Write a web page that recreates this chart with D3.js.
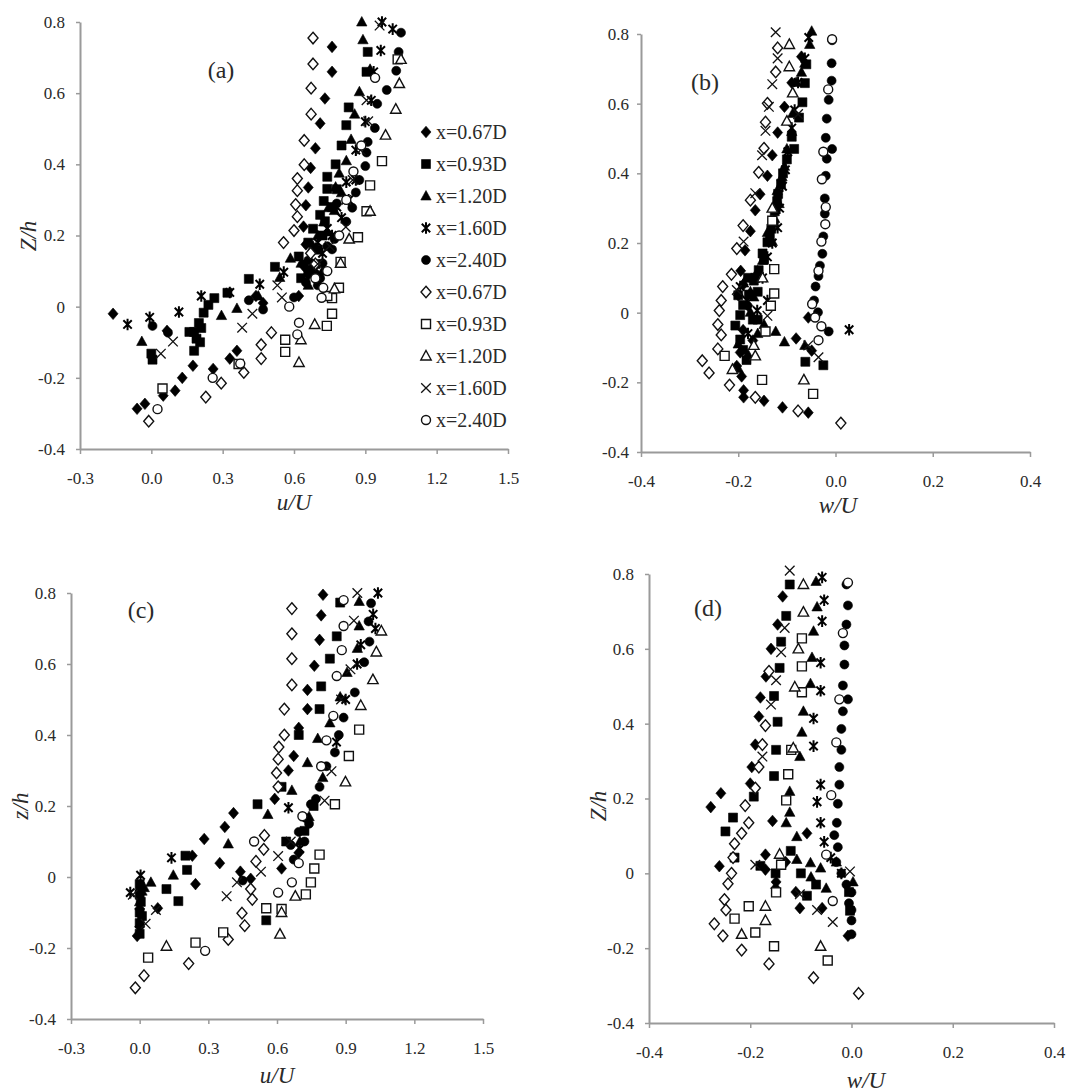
<!DOCTYPE html>
<html>
<head>
<meta charset="utf-8">
<script src="https://cdn.jsdelivr.net/npm/d3@7"></script>
<style>
  body { margin: 0; background: #fff; }
  text { font-family: "Liberation Serif", "DejaVu Serif", serif; fill: #2a2a2a; }
</style>
</head>
<body>
<script>
width = 1067;
height = 1092;

// tick labels
uTicks = [-0.3, 0, 0.3, 0.6, 0.9, 1.2, 1.5];
uTickLabels = ["-0.3", "0.0", "0.3", "0.6", "0.9", "1.2", "1.5"];
wTicks = [-0.4, -0.2, 0, 0.2, 0.4];
wTickLabels = ["-0.4", "-0.2", "0.0", "0.2", "0.4"];
zTicks = [-0.4, -0.2, 0, 0.2, 0.4, 0.6, 0.8];
zTickLabels = ["-0.4", "-0.2", "0", "0.2", "0.4", "0.6", "0.8"];

// legend / series
seriesNames = ["x=0.67D", "x=0.93D", "x=1.20D", "x=1.60D", "x=2.40D",
               "x=0.67D", "x=0.93D", "x=1.20D", "x=1.60D", "x=2.40D"];
seriesMarkers = ["diamondF", "squareF", "triangleF", "star", "circleF",
                 "diamondO", "squareO", "triangleO", "cross", "circleO"];

// ---- panel (a): u/U ----
a_067f = [[0.76,0.73],[0.76,0.66],[0.73,0.585],[0.71,0.515],[0.69,0.445],[0.67,0.39],[0.66,0.335],[0.65,0.285],[0.64,0.225],[0.65,0.175],[0.64,0.115],[0.66,0.09],[0.62,0.03],[0.47,0.01],[0.44,0.03],[0.36,-0.124],[0.33,-0.146],[0.26,-0.175],[0.175,-0.166],[0.13,-0.2],[0.1,-0.236],[0.05,-0.25],[-0.027,-0.273],[-0.06,-0.287],[-0.161,-0.02],[0.066,-0.068]];
a_093f = [[0.91,0.716],[0.905,0.66],[0.83,0.56],[0.82,0.51],[0.8,0.453],[0.775,0.4],[0.74,0.365],[0.74,0.331],[0.725,0.297],[0.71,0.258],[0.68,0.219],[0.66,0.18],[0.62,0.141],[0.52,0.112],[0.41,0.078],[0.32,0.039],[0.265,0.024],[0.24,0.005],[0.22,-0.017],[0.2,-0.046],[0.18,-0.071],[0.16,-0.071],[0.205,-0.1],[0.18,-0.124],[0.005,-0.149],[0.0,-0.132],[0.21,-0.06],[0.19,-0.09],[0.76,0.28],[0.73,0.24],[0.7,0.16],[0.72,0.2],[0.78,0.33],[0.69,0.12],[0.66,0.1],[0.63,0.08]];
a_120f = [[0.885,0.8],[0.89,0.75],[0.92,0.667],[0.875,0.604],[0.855,0.541],[0.84,0.47],[0.82,0.41],[0.79,0.375],[0.775,0.336],[0.745,0.278],[0.725,0.238],[0.7,0.2],[0.63,0.122],[0.585,0.136],[0.54,0.082],[0.45,0.03],[0.36,-0.005],[0.295,-0.025],[-0.04,-0.098],[0.69,0.165],[0.8,0.32],[0.77,0.27],[0.74,0.21],[0.68,0.17],[0.72,0.1],[0.66,0.06]];
a_160f = [[0.97,0.8],[1.015,0.78],[0.965,0.72],[0.935,0.66],[0.925,0.58],[0.9,0.52],[0.86,0.44],[0.86,0.356],[0.83,0.3],[0.8,0.25],[0.76,0.2],[0.72,0.15],[0.557,0.097],[0.456,0.063],[0.33,0.04],[0.21,0.03],[0.116,-0.015],[-0.007,-0.03],[-0.1,-0.05],[0.82,0.35],[0.78,0.28],[0.74,0.22],[0.7,0.18],[0.65,0.12]];
a_240f = [[1.05,0.77],[1.04,0.716],[1.03,0.663],[0.99,0.609],[0.95,0.57],[0.94,0.502],[0.91,0.463],[0.905,0.433],[0.9,0.395],[0.875,0.356],[0.86,0.321],[0.845,0.278],[0.82,0.239],[0.77,0.19],[0.76,0.161],[0.72,0.122],[0.69,0.093],[0.65,0.068],[0.6,0.026],[0.47,-0.008],[0.41,0.018],[0.07,-0.073],[0.005,-0.054],[0.7,0.06],[0.68,0.11],[0.78,0.29],[0.74,0.17],[0.71,0.08],[0.66,0.13]];
a_067o = [[0.68,0.755],[0.68,0.682],[0.672,0.614],[0.672,0.541],[0.643,0.467],[0.643,0.399],[0.614,0.36],[0.614,0.326],[0.607,0.287],[0.614,0.253],[0.6,0.214],[0.556,0.18],[0.505,-0.073],[0.462,-0.107],[0.462,-0.146],[0.389,-0.185],[0.294,-0.215],[0.229,-0.254],[-0.011,-0.322],[0.67,0.15],[0.69,0.12]];
a_093o = [[1.036,0.695],[0.97,0.409],[0.92,0.341],[0.905,0.268],[0.869,0.195],[0.796,0.126],[0.789,0.053],[0.76,0.024],[0.76,-0.02],[0.738,-0.054],[0.563,-0.093],[0.563,-0.127],[0.047,-0.23],[0.367,-0.161],[0.74,0.03]];
a_120o = [[1.05,0.695],[1.043,0.627],[1.028,0.555],[0.985,0.482],[0.92,0.268],[0.832,0.19],[0.796,0.122],[0.687,-0.05],[0.629,-0.093],[0.621,-0.157],[0.77,0.05]];
a_160o = [[0.96,0.79],[0.905,0.58],[0.912,0.521],[0.88,0.44],[0.847,0.356],[0.82,0.3],[0.818,0.224],[0.75,0.17],[0.549,0.026],[0.53,0.06],[0.425,-0.02],[0.382,-0.059],[0.091,-0.098],[0.04,-0.132],[0.7,0.12]];
a_240o = [[0.941,0.643],[0.883,0.453],[0.85,0.38],[0.82,0.3],[0.79,0.2],[0.74,0.1],[0.723,0.053],[0.716,0.025],[0.621,-0.045],[0.614,-0.078],[0.374,-0.16],[0.258,-0.2],[0.026,-0.288],[0.58,0.0],[0.69,0.08]];

// ---- panel (b): w/U ----
b_067f = [[-0.07,0.735],[-0.09,0.66],[-0.105,0.591],[-0.119,0.517],[-0.13,0.452],[-0.14,0.393],[-0.155,0.34],[-0.165,0.294],[-0.175,0.234],[-0.186,0.179],[-0.195,0.12],[-0.2,0.05],[-0.19,0.08],[-0.18,0.02],[-0.19,-0.05],[-0.17,-0.08],[-0.196,-0.114],[-0.203,-0.153],[-0.193,-0.183],[-0.189,-0.223],[-0.189,-0.243],[-0.147,-0.253],[-0.109,-0.272],[-0.056,-0.287],[-0.081,-0.074],[-0.049,-0.109],[-0.056,-0.014]];
b_093f = [[-0.06,0.713],[-0.063,0.659],[-0.068,0.604],[-0.075,0.56],[-0.085,0.47],[-0.09,0.505],[-0.1,0.44],[-0.108,0.4],[-0.112,0.37],[-0.118,0.341],[-0.12,0.32],[-0.125,0.291],[-0.132,0.241],[-0.135,0.22],[-0.14,0.202],[-0.147,0.152],[-0.15,0.17],[-0.158,0.122],[-0.165,0.1],[-0.168,0.092],[-0.178,0.052],[-0.19,0.022],[-0.196,-0.007],[-0.206,-0.037],[-0.196,-0.077],[-0.19,-0.107],[-0.183,-0.136],[-0.062,-0.141],[-0.025,-0.151],[-0.16,0.06],[-0.17,-0.02],[-0.16,-0.02],[-0.2,0.05],[-0.18,0.1]];
b_120f = [[-0.049,0.808],[-0.053,0.77],[-0.063,0.716],[-0.07,0.69],[-0.081,0.661],[-0.088,0.572],[-0.09,0.52],[-0.1,0.47],[-0.105,0.42],[-0.11,0.39],[-0.12,0.35],[-0.116,0.313],[-0.125,0.27],[-0.14,0.23],[-0.13,0.204],[-0.15,0.15],[-0.16,0.12],[-0.189,0.085],[-0.175,0.06],[-0.168,0.045],[-0.175,0.001],[-0.147,-0.034],[-0.16,-0.06],[-0.123,-0.054],[-0.105,-0.084],[-0.063,-0.094],[-0.2,-0.09],[-0.18,-0.12],[-0.2,-0.16]];
b_160f = [[-0.055,0.79],[-0.063,0.73],[-0.077,0.661],[-0.084,0.582],[-0.09,0.53],[-0.098,0.462],[-0.103,0.41],[-0.109,0.363],[-0.115,0.3],[-0.119,0.244],[-0.13,0.2],[-0.14,0.16],[-0.15,0.1],[-0.196,0.075],[-0.182,0.035],[-0.161,0.006],[-0.14,0.035],[0.028,-0.049],[-0.18,-0.06]];
b_240f = [[-0.007,0.782],[-0.008,0.716],[-0.008,0.666],[-0.014,0.611],[-0.018,0.557],[-0.02,0.502],[-0.007,0.47],[-0.018,0.442],[-0.02,0.393],[-0.022,0.328],[-0.022,0.284],[-0.025,0.219],[-0.027,0.169],[-0.032,0.135],[-0.035,0.105],[-0.041,0.075],[-0.044,0.035],[-0.036,0.001],[-0.014,-0.054]];
b_067o = [[-0.119,0.76],[-0.123,0.691],[-0.14,0.601],[-0.144,0.547],[-0.147,0.472],[-0.158,0.403],[-0.175,0.323],[-0.19,0.25],[-0.203,0.184],[-0.214,0.11],[-0.232,0.075],[-0.235,0.035],[-0.239,0.006],[-0.242,-0.034],[-0.235,-0.064],[-0.242,-0.104],[-0.274,-0.138],[-0.26,-0.173],[-0.218,-0.208],[-0.165,-0.243],[-0.077,-0.282],[0.011,-0.317]];
b_093o = [[-0.13,0.264],[-0.126,0.125],[-0.126,0.055],[-0.133,0.02],[-0.144,-0.054],[-0.228,-0.124],[-0.151,-0.193],[-0.046,-0.233]];
b_120o = [[-0.095,0.77],[-0.095,0.706],[-0.088,0.631],[-0.1,0.55],[-0.13,0.3],[-0.15,0.1],[-0.168,-0.094],[-0.165,-0.124],[-0.212,-0.163],[-0.065,-0.193]];
b_160o = [[-0.123,0.805],[-0.119,0.73],[-0.13,0.656],[-0.137,0.591],[-0.144,0.522],[-0.151,0.452],[-0.165,0.343],[-0.189,0.204],[-0.203,0.065],[-0.14,-0.009],[-0.056,-0.094],[-0.035,-0.128],[-0.077,0.57]];
b_240o = [[-0.007,0.785],[-0.015,0.641],[-0.025,0.462],[-0.028,0.383],[-0.02,0.303],[-0.021,0.254],[-0.029,0.204],[-0.035,0.12],[-0.048,0.025],[-0.042,-0.014],[-0.029,-0.039],[-0.035,-0.079]];

// ---- panel (c): u/U ----
c_067f = [[0.801,0.795],[0.793,0.737],[0.786,0.668],[0.763,0.595],[0.733,0.527],[0.733,0.473],[0.695,0.42],[0.673,0.341],[0.65,0.3],[0.59,0.22],[0.41,0.18],[0.372,0.141],[0.282,0.107],[0.244,-0.02],[0.079,-0.088],[-0.011,-0.166],[0.0,-0.14],[0.0,-0.09],[0.35,0.039],[0.44,0.015],[0.485,-0.005],[0.62,0.024],[0.695,0.068],[0.23,0.06]];
c_093f = [[0.876,0.773],[0.861,0.678],[0.831,0.615],[0.793,0.537],[0.786,0.473],[0.695,0.4],[0.62,0.254],[0.515,0.205],[0.207,0.02],[0.117,-0.034],[0.169,-0.068],[0.553,-0.122],[0.0,-0.1],[0.0,-0.13],[0.005,-0.07],[0.0,-0.02],[0.0,-0.05],[0.0,-0.16],[0.01,-0.11],[0.2,0.06],[0.64,0.1],[0.76,0.2],[0.72,0.13]];
c_120f = [[0.959,0.776],[0.959,0.707],[0.951,0.644],[0.906,0.576],[0.876,0.507],[0.831,0.434],[0.778,0.39],[0.733,0.322],[0.8,0.28],[0.665,0.244],[0.74,0.17],[0.56,0.176],[0.387,0.093],[0.147,0.005],[0.049,-0.015],[0.01,-0.04],[0.0,-0.07],[0.02,-0.03],[0.7,0.1]];
c_160f = [[1.041,0.8],[1.02,0.74],[1.03,0.7],[0.966,0.654],[0.95,0.6],[0.9,0.5],[0.86,0.38],[0.65,0.195],[0.7,0.08],[0.139,0.054],[0.004,0.005],[-0.041,-0.044]];
c_240f = [[1.011,0.771],[1.0,0.72],[1.004,0.663],[0.981,0.605],[0.94,0.52],[0.891,0.449],[0.87,0.4],[0.853,0.351],[0.816,0.312],[0.786,0.254],[0.77,0.22],[0.748,0.205],[0.726,0.166],[0.74,0.15],[0.695,0.127],[0.72,0.1],[0.66,0.09],[0.673,0.049],[0.45,-0.01],[0.0,-0.04]];
c_067o = [[0.665,0.756],[0.665,0.685],[0.665,0.615],[0.665,0.541],[0.632,0.473],[0.632,0.4],[0.608,0.366],[0.605,0.332],[0.598,0.293],[0.605,0.254],[0.545,0.117],[0.542,0.078],[0.508,0.044],[0.485,-0.034],[0.492,-0.063],[0.447,-0.102],[0.459,-0.137],[0.387,-0.176],[0.214,-0.244],[0.019,-0.278],[-0.019,-0.312]];
c_093o = [[0.959,0.415],[0.914,0.341],[0.853,0.205],[0.786,0.063],[0.763,0.024],[0.748,-0.015],[0.726,-0.049],[0.553,-0.088],[0.62,-0.09],[0.365,-0.156],[0.244,-0.185],[0.037,-0.227]];
c_120o = [[1.056,0.693],[1.034,0.634],[1.019,0.556],[0.966,0.483],[0.899,0.268],[0.68,-0.054],[0.62,-0.1],[0.613,-0.161],[0.117,-0.195]];
c_160o = [[0.951,0.8],[0.936,0.722],[0.921,0.585],[0.88,0.5],[0.838,0.298],[0.808,0.215],[0.66,0.1],[0.605,0.059],[0.53,0.015],[0.425,-0.015],[0.38,-0.054],[0.071,-0.093],[0.026,-0.132],[-0.03,-0.05]];
c_240o = [[0.891,0.78],[0.891,0.707],[0.883,0.639],[0.861,0.566],[0.846,0.454],[0.816,0.385],[0.793,0.312],[0.711,0.171],[0.5,0.1],[0.695,0.039],[0.665,-0.015],[0.605,-0.044],[0.286,-0.208]];

// ---- panel (d): w/U ----
d_067f = [[-0.136,0.74],[-0.146,0.665],[-0.159,0.6],[-0.169,0.526],[-0.18,0.47],[-0.183,0.419],[-0.19,0.344],[-0.197,0.284],[-0.2,0.24],[-0.278,0.177],[-0.258,0.214],[-0.261,0.019],[-0.156,0.14],[-0.088,0.107],[-0.17,0.05],[-0.17,0.01],[-0.13,0.03],[-0.149,-0.023],[-0.15,-0.04],[-0.11,-0.05],[-0.102,-0.093],[-0.058,-0.093],[-0.007,-0.167]];
d_093f = [[-0.122,0.772],[-0.129,0.688],[-0.139,0.619],[-0.142,0.549],[-0.153,0.474],[-0.146,0.405],[-0.149,0.33],[-0.153,0.26],[-0.193,0.205],[-0.234,0.149],[-0.249,0.112],[-0.231,0.042],[-0.18,0.02],[-0.15,0.0],[-0.12,0.06],[-0.1,0.0],[-0.07,-0.03],[-0.088,-0.06],[-0.005,-0.05],[-0.003,-0.1]];
d_120f = [[-0.07,0.78],[-0.068,0.712],[-0.075,0.647],[-0.078,0.577],[-0.081,0.507],[-0.095,0.433],[-0.098,0.377],[-0.102,0.312],[-0.122,0.219],[-0.122,0.163],[-0.129,0.135],[-0.108,0.098],[-0.108,0.037],[-0.081,0.028],[-0.061,0.014],[-0.03,0.03],[-0.08,-0.01],[-0.05,-0.04],[0.003,-0.023]];
d_160f = [[-0.058,0.791],[-0.054,0.73],[-0.058,0.674],[-0.061,0.563],[-0.061,0.488],[-0.075,0.414],[-0.075,0.34],[-0.061,0.237],[-0.068,0.191],[-0.061,0.135],[-0.054,0.084],[-0.041,0.042],[-0.02,0.0]];
d_240f = [[-0.01,0.772],[-0.007,0.716],[-0.01,0.665],[-0.014,0.609],[-0.014,0.558],[-0.017,0.502],[-0.007,0.465],[-0.017,0.433],[-0.02,0.386],[-0.02,0.33],[-0.024,0.284],[-0.024,0.237],[-0.027,0.186],[-0.029,0.135],[-0.034,0.102],[-0.027,0.07],[-0.03,0.03],[-0.02,0.0],[-0.01,-0.03],[0.0,-0.051],[-0.005,-0.08],[0.0,-0.098],[0.0,-0.126],[0.0,-0.163]];
d_067o = [[-0.163,0.54],[-0.17,0.395],[-0.176,0.344],[-0.183,0.284],[-0.19,0.228],[-0.21,0.181],[-0.203,0.135],[-0.217,0.107],[-0.231,0.079],[-0.234,0.042],[-0.237,0.0],[-0.244,-0.028],[-0.251,-0.07],[-0.248,-0.098],[-0.271,-0.135],[-0.254,-0.167],[-0.217,-0.205],[-0.163,-0.242],[-0.075,-0.279],[0.014,-0.321]];
d_093o = [[-0.098,0.628],[-0.098,0.553],[-0.098,0.484],[-0.119,0.33],[-0.125,0.265],[-0.129,0.195],[-0.139,0.023],[-0.149,-0.051],[-0.203,-0.088],[-0.231,-0.121],[-0.19,-0.158],[-0.153,-0.195],[-0.047,-0.233]];
d_120o = [[-0.095,0.772],[-0.095,0.698],[-0.105,0.6],[-0.112,0.498],[-0.115,0.335],[-0.142,0.051],[-0.17,-0.088],[-0.17,-0.126],[-0.217,-0.163],[-0.061,-0.195]];
d_160o = [[-0.122,0.809],[-0.132,0.656],[-0.139,0.591],[-0.149,0.516],[-0.159,0.451],[-0.176,0.312],[-0.19,0.023],[-0.102,-0.056],[-0.068,-0.098],[-0.037,-0.13],[-0.003,0.005]];
d_240o = [[-0.007,0.777],[-0.017,0.642],[-0.024,0.465],[-0.03,0.35],[-0.04,0.209],[-0.05,0.05],[-0.037,-0.074]];

// panel layout (pixel frames)
panels = [
  {label: "(a)", lx: 221, ly: 70, left: 80, right: 508, top: 22, bottom: 449,
   xdom: [-0.3, 1.5], xt: uTicks, xtl: uTickLabels, xtitle: "u/U", tx: 294, ty: 502,
   ytitle: "Z/h", yx: 28, yy: 236, ypad: 11,
   series: [a_067f, a_093f, a_120f, a_160f, a_240f, a_067o, a_093o, a_120o, a_160o, a_240o]},
  {label: "(b)", lx: 705, ly: 82, left: 641, right: 1030, top: 34, bottom: 452,
   xdom: [-0.4, 0.4], xt: wTicks, xtl: wTickLabels, xtitle: "w/U", tx: 838, ty: 505,
   ytitle: null, ypad: 8,
   series: [b_067f, b_093f, b_120f, b_160f, b_240f, b_067o, b_093o, b_120o, b_160o, b_240o]},
  {label: "(c)", lx: 141, ly: 610, left: 71, right: 483, top: 593, bottom: 1019,
   xdom: [-0.3, 1.5], xt: uTicks, xtl: uTickLabels, xtitle: "u/U", tx: 277, ty: 1075,
   ytitle: "z/h", yx: 20, yy: 806, ypad: 11,
   series: [c_067f, c_093f, c_120f, c_160f, c_240f, c_067o, c_093o, c_120o, c_160o, c_240o]},
  {label: "(d)", lx: 708, ly: 608, left: 649, right: 1054, top: 574, bottom: 1023,
   xdom: [-0.4, 0.4], xt: wTicks, xtl: wTickLabels, xtitle: "w/U", tx: 866, ty: 1080,
   ytitle: "Z/h", yx: 598, yy: 806, ypad: 11,
   series: [d_067f, d_093f, d_120f, d_160f, d_240f, d_067o, d_093o, d_120o, d_160o, d_240o]}
];

// marker shapes, centred on 0,0
function marker_path(kind) {
  if (kind.startsWith("diamond")) return "M0,-5.8L5,0L0,5.8L-5,0Z";
  if (kind.startsWith("square")) return "M-4.5,-4.5h9v9h-9Z";
  if (kind.startsWith("triangle")) return "M0,-5.5L5.2,4L-5.2,4Z";
  if (kind.startsWith("circle")) return "M4.5,0A4.5,4.5 0 1,1 -4.5,0A4.5,4.5 0 1,1 4.5,0Z";
  if (kind == "star") return "M-4.2,-4.2L4.2,4.2M-4.2,4.2L4.2,-4.2M0,-5.8L0,5.8";
  if (kind == "cross") return "M-4.8,-4.8L4.8,4.8M-4.8,4.8L4.8,-4.8";
}

function draw_marker(g, kind, x, y) {
  var p = g.append("path")
    .attr("d", marker_path(kind))
    .attr("transform", "translate(" + x + "," + y + ")");
  if (kind == "star") {
    p.attr("fill", "none").attr("stroke", "#000").attr("stroke-width", 2);
  } else if (kind == "cross") {
    p.attr("fill", "none").attr("stroke", "#111").attr("stroke-width", 1.3);
  } else if (kind.endsWith("F")) {
    p.attr("fill", "#000").attr("stroke", "#000").attr("stroke-width", 0.6);
  } else {
    p.attr("fill", "#fff").attr("stroke", "#111").attr("stroke-width", 1.4);
  }
}

svg = d3.select("body").append("svg")
  .attr("width", width)
  .attr("height", height);
svg.append("rect").attr("width", width).attr("height", height).attr("fill", "#fff");

panels.forEach(function(p) {
  var x = d3.scaleLinear().domain(p.xdom).range([p.left, p.right]);
  var y = d3.scaleLinear().domain([-0.4, 0.8]).range([p.bottom, p.top]);
  var g = svg.append("g");

  // axes
  var xa = g.append("g").attr("transform", "translate(0," + p.bottom + ")")
    .call(d3.axisBottom(x).tickValues(p.xt).tickFormat(function(d, i) { return p.xtl[i]; })
      .tickSize(5).tickSizeOuter(0).tickPadding(18));
  var ya = g.append("g").attr("transform", "translate(" + p.left + ",0)")
    .call(d3.axisLeft(y).tickValues(zTicks).tickFormat(function(d, i) { return zTickLabels[i]; })
      .tickSize(4).tickSizeOuter(0).tickPadding(p.ypad));
  [xa, ya].forEach(function(a) {
    a.select(".domain").attr("stroke", "#9a9a9a").attr("stroke-width", 2);
    a.selectAll(".tick line").attr("stroke", "#9a9a9a").attr("stroke-width", 1.5);
    a.selectAll(".tick text").attr("font-size", 17).attr("fill", "#2a2a2a")
      .attr("font-family", "Liberation Serif");
  });

  // titles
  g.append("text").attr("x", p.tx).attr("y", p.ty).attr("dy", "0.35em")
    .attr("text-anchor", "middle").attr("font-size", 23).attr("font-style", "italic")
    .text(p.xtitle);
  if (p.ytitle) {
    g.append("text").attr("transform", "translate(" + p.yx + "," + p.yy + ") rotate(-90)")
      .attr("dy", "0.35em").attr("text-anchor", "middle").attr("font-size", 23)
      .attr("font-style", "italic").text(p.ytitle);
  }
  g.append("text").attr("x", p.lx).attr("y", p.ly).attr("dy", "0.35em")
    .attr("text-anchor", "middle").attr("font-size", 24).text(p.label);

  // points
  p.series.forEach(function(pts, si) {
    pts.forEach(function(d) {
      draw_marker(g, seriesMarkers[si], x(d[0]), y(d[1]));
    });
  });
});

// legend lives inside panel (a)
legend = svg.append("g");
seriesNames.forEach(function(name, i) {
  var ly = 132 + i * 32;
  draw_marker(legend, seriesMarkers[i], 426, ly);
  legend.append("text").attr("x", 436).attr("y", ly).attr("dy", "0.35em")
    .attr("font-size", 20).text(name);
});
</script>
</body>
</html>
